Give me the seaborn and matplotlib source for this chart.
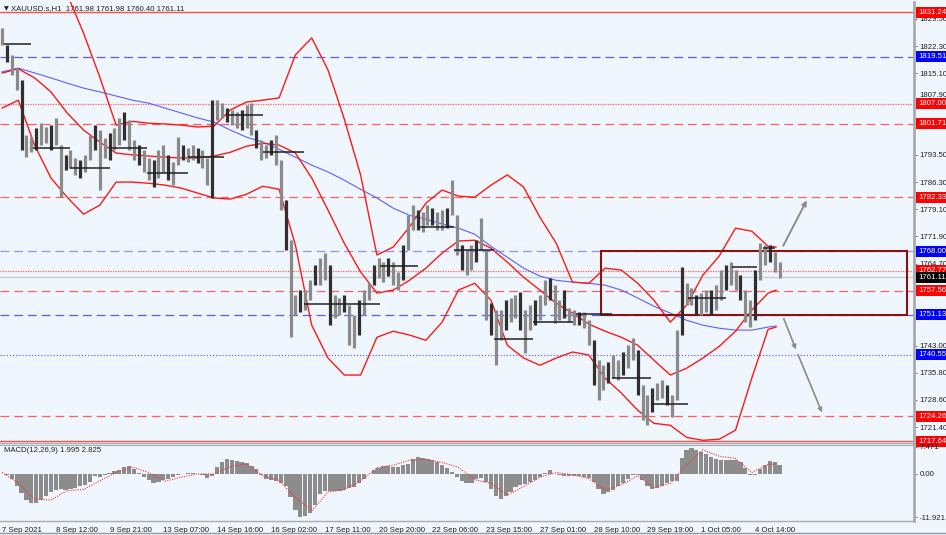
import numpy as np
import pandas as pd
import matplotlib
matplotlib.use("Agg")
import matplotlib.pyplot as plt
import matplotlib.transforms as mtransforms
from matplotlib.patches import Rectangle
from matplotlib.lines import Line2D
import seaborn as sns

# ---------------- data ----------------
symbol_title = "XAUUSD.s,H1  1761.98 1761.98 1760.40 1761.11"
macd_title = "MACD(12,26,9) 1.995 2.825"

date_labels = ["7 Sep 2021", "8 Sep 12:00", "9 Sep 21:00", "13 Sep 07:00", "14 Sep 16:00",
               "16 Sep 02:00", "17 Sep 11:00", "20 Sep 20:00", "22 Sep 06:00", "23 Sep 15:00",
               "27 Sep 01:00", "28 Sep 10:00", "29 Sep 19:00", "1 Oct 05:00", "4 Oct 14:00"]
date_label_bars = [0, 33, 66, 99, 132, 165, 198, 231, 264, 297, 330, 363, 396, 429, 462]

# H1 price blocks (one block = 3 hourly bars): high / low
block_bars = list(range(0, 478, 3))
bar_high = [1827.1, 1822.6, 1820.0, 1816.5, 1813.3, 1798.8, 1798.2, 1800.6, 1801.9, 1800.9,
            1801.4, 1803.3, 1796.1, 1793.5, 1794.8, 1792.7, 1792.1, 1793.5, 1798.8, 1801.4,
            1800.1, 1798.0, 1799.3, 1800.6, 1803.3, 1804.9, 1802.7, 1797.4, 1796.1, 1794.8,
            1792.7, 1792.1, 1794.8, 1796.1, 1793.5, 1791.6, 1798.2, 1796.1, 1795.3, 1796.1,
            1795.3, 1794.8, 1792.7, 1808.0, 1808.0, 1807.2, 1805.9, 1805.4, 1804.9, 1805.4,
            1806.7, 1807.2, 1800.1, 1797.4, 1796.1, 1797.4, 1798.8, 1792.1, 1781.5, 1770.9,
            1756.4, 1757.7, 1757.7, 1760.3, 1764.3, 1766.2, 1767.5, 1764.3, 1756.4, 1755.6,
            1756.4, 1753.7, 1751.1, 1755.0, 1757.7, 1759.5, 1764.3, 1766.2, 1765.1, 1766.2,
            1765.1, 1762.5, 1769.6, 1777.5, 1780.2, 1778.9, 1778.4, 1780.2, 1779.4, 1778.4,
            1778.9, 1779.4, 1786.8, 1777.5, 1769.6, 1768.3, 1769.6, 1770.9, 1776.8, 1768.3,
            1754.2, 1752.4, 1752.4, 1755.0, 1755.6, 1756.4, 1757.1, 1752.4, 1753.7, 1755.0,
            1756.4, 1760.3, 1760.9, 1759.0, 1755.0, 1757.7, 1752.9, 1752.4, 1751.9, 1751.9,
            1749.7, 1744.4, 1739.1, 1737.8, 1738.6, 1740.5, 1739.1, 1741.3, 1743.1, 1745.0,
            1741.8, 1732.5, 1729.9, 1731.7, 1733.0, 1733.8, 1732.5, 1729.9, 1747.1, 1763.8,
            1759.5, 1758.2, 1756.4, 1756.9, 1757.7, 1757.7, 1759.0, 1763.0, 1764.3, 1765.1,
            1763.0, 1761.7, 1757.7, 1755.0, 1763.0, 1770.1, 1769.6, 1769.6, 1767.8, 1765.1]
bar_low = [1822.6, 1818.1, 1814.7, 1810.7, 1794.8, 1792.9, 1794.2, 1794.8, 1796.1, 1796.6,
           1794.8, 1796.1, 1782.3, 1789.5, 1790.0, 1788.2, 1787.4, 1789.0, 1792.1, 1794.8,
           1784.2, 1792.7, 1792.1, 1794.8, 1796.1, 1797.4, 1794.8, 1792.1, 1790.8, 1789.0,
           1786.8, 1785.0, 1787.4, 1789.0, 1786.8, 1785.5, 1790.8, 1792.1, 1791.6, 1792.1,
           1791.3, 1790.0, 1785.5, 1782.1, 1802.7, 1803.3, 1802.2, 1801.4, 1800.6, 1800.1,
           1800.6, 1798.8, 1795.3, 1792.1, 1792.7, 1793.5, 1790.8, 1778.9, 1768.3, 1745.2,
           1751.1, 1751.9, 1752.4, 1755.0, 1759.0, 1759.0, 1760.3, 1748.4, 1750.3, 1751.1,
           1751.9, 1743.1, 1742.3, 1745.8, 1751.1, 1755.0, 1759.0, 1760.9, 1759.8, 1761.4,
           1759.0, 1757.7, 1760.3, 1768.3, 1773.6, 1773.6, 1773.1, 1774.9, 1774.9, 1773.6,
           1773.6, 1774.1, 1777.5, 1767.0, 1763.0, 1761.7, 1763.0, 1765.1, 1768.3, 1749.7,
           1745.8, 1737.8, 1744.4, 1747.1, 1749.2, 1750.3, 1747.1, 1741.0, 1747.1, 1748.4,
           1749.7, 1753.7, 1755.0, 1748.9, 1749.7, 1750.3, 1749.2, 1748.4, 1748.4, 1747.6,
           1743.1, 1732.5, 1728.5, 1731.2, 1733.0, 1734.4, 1733.8, 1735.2, 1737.0, 1739.1,
           1729.9, 1723.2, 1721.9, 1725.4, 1728.5, 1729.1, 1727.2, 1724.0, 1728.5, 1745.8,
           1753.7, 1753.7, 1751.1, 1751.1, 1751.9, 1751.1, 1752.4, 1755.0, 1757.7, 1759.0,
           1757.7, 1755.0, 1749.2, 1747.9, 1749.7, 1760.3, 1764.3, 1765.1, 1762.5, 1760.9]

# indicator lines, sampled every 10 bars
band_bars = list(range(0, 471, 10)) + [475]
bb_upper = [1838.0, 1843.0, 1845.0, 1842.0, 1836.0, 1825.8, 1814.1, 1801.4, 1802.4, 1801.9,
            1801.7, 1801.4, 1800.9, 1801.1, 1805.4, 1807.5, 1808.0, 1808.6, 1820.0, 1824.5,
            1816.0, 1803.0, 1788.2, 1767.0, 1769.1, 1774.4, 1780.7, 1784.2, 1782.6, 1782.3,
            1785.5, 1788.2, 1785.0, 1777.0, 1770.1, 1759.8, 1759.5, 1763.5, 1763.0, 1759.5,
            1755.0, 1749.2, 1753.7, 1761.7, 1766.7, 1774.1, 1773.3, 1769.3, 1769.1]
bb_middle = [1815.2, 1816.3, 1813.9, 1810.2, 1804.6, 1800.1, 1796.9, 1794.0, 1793.5, 1793.2,
             1792.9, 1792.7, 1792.7, 1793.2, 1794.2, 1795.8, 1796.6, 1796.1, 1794.0, 1787.4,
             1778.9, 1770.1, 1762.5, 1756.9, 1757.7, 1760.3, 1763.5, 1767.5, 1770.7, 1770.9,
             1768.8, 1765.1, 1761.1, 1757.7, 1754.2, 1751.6, 1748.7, 1746.8, 1745.2, 1743.1,
             1739.1, 1735.2, 1737.0, 1739.7, 1742.8, 1746.8, 1752.4, 1756.9, 1757.7]
bb_lower = [1805.9, 1808.0, 1796.1, 1787.4, 1782.3, 1777.8, 1780.2, 1786.3, 1786.3, 1786.0,
            1785.5, 1784.7, 1783.4, 1782.1, 1781.8, 1783.1, 1785.2, 1784.4, 1769.6, 1748.4,
            1739.7, 1735.2, 1735.2, 1745.2, 1746.8, 1745.8, 1744.4, 1749.2, 1757.7, 1759.5,
            1755.0, 1743.1, 1739.7, 1737.8, 1739.7, 1741.3, 1740.5, 1734.4, 1730.4, 1725.9,
            1722.4, 1721.9, 1718.7, 1717.9, 1718.2, 1720.6, 1734.4, 1747.3, 1747.9]
ma_slow = [1815.5, 1816.5, 1815.2, 1813.9, 1812.5, 1811.2, 1810.2, 1809.1, 1808.0, 1807.2,
           1805.9, 1804.6, 1803.3, 1802.2, 1800.1, 1798.2, 1796.9, 1795.0, 1792.9, 1790.8,
           1789.0, 1786.8, 1784.4, 1782.1, 1779.4, 1777.5, 1776.5, 1775.2, 1774.1, 1772.5,
           1769.3, 1766.4, 1763.5, 1761.4, 1760.3, 1759.8, 1759.5, 1759.0, 1757.7, 1755.6,
           1753.4, 1751.6, 1749.7, 1748.4, 1747.6, 1747.1, 1747.1, 1747.9, 1748.2]

macd_main = [0.0, -0.2, -1.5, -3.4, -5.4, -7.2, -8.1, -8.0, -7.3, -6.2,
             -5.0, -4.4, -4.2, -4.4, -4.1, -3.8, -3.4, -3.0, -2.2, -0.5,
             -0.9, -0.4, 0.2, 0.7, 1.2, 2.0, 2.1, 1.3, 0.2, -0.8,
             -1.8, -2.5, -2.1, -1.7, -1.3, -0.9, -0.4, 0.1, 0.3, 0.2,
             0.0, -0.4, -1.0, -0.6, 2.0, 3.4, 4.0, 3.9, 3.7, 3.3,
             2.9, 2.1, 1.5, -0.2, -1.5, -1.8, -1.9, -2.5, -3.4, -6.5,
             -10.0, -11.9, -11.6, -10.8, -8.6, -5.5, -4.6, -4.6, -4.7, -4.8,
             -4.4, -4.0, -3.7, -2.5, -1.4, 0.0, 1.1, 1.7, 2.3, 2.1,
             2.0, 2.0, 2.5, 2.8, 4.2, 4.6, 4.4, 4.2, 3.8, 3.2,
             2.4, 1.6, 0.5, -0.8, -2.0, -2.5, -2.6, -1.3, -1.2, -2.1,
             -4.2, -6.0, -7.0, -6.1, -4.9, -3.5, -3.0, -2.9, -2.3, -1.6,
             -0.8, 0.2, 1.2, 0.0, -0.4, -0.5, -0.6, -0.6, -0.7, -0.8,
             -1.2, -2.3, -4.2, -5.5, -5.0, -4.3, -3.3, -2.4, -1.4, -0.3,
             -0.2, -1.8, -3.3, -4.2, -3.8, -3.2, -2.6, -2.0, -1.9, 4.5,
             6.5, 7.1, 6.7, 6.1, 5.4, 4.7, 4.1, 3.9, 3.9, 3.9,
             3.8, 3.2, 1.6, -0.3, -0.3, 1.4, 2.5, 3.5, 3.2, 2.6]
macd_signal = [0.4, -2.5, -7.0, -7.2, -4.6, -4.3, -1.9, 0.4, 1.9, 0.4,
               -2.0, -0.9, 0.0, 0.0, 2.0, 2.8, -0.5, -1.8, -6.5, -10.2,
               -5.0, -4.3, -2.0, 1.7, 2.4, 3.8, 4.0, 3.2, 1.8, -1.6,
               -2.6, -5.8, -3.5, -0.9, 0.4, -0.2, -1.3, -4.4, -3.0, -0.5,
               -3.8, -2.6, 2.5, 6.7, 4.9, 4.3, 0.4, 2.6, 2.8]

# daily open segments
day_open_start = [1, 19, 42, 66, 89, 114, 138, 160, 185, 232, 255, 277, 302, 326, 352, 374, 398, 421, 448, 467]
day_open_end = [18, 42, 66, 89, 114, 136, 160, 185, 232, 255, 277, 302, 326, 350, 374, 398, 421, 444, 463, 474]
day_open_price = [1822.9, 1795.3, 1790.0, 1795.3, 1788.7, 1792.9, 1804.1, 1794.2, 1754.0, 1764.0,
                  1774.4, 1768.3, 1744.7, 1749.2, 1751.4, 1734.4, 1727.5, 1755.6, 1763.8, 1768.8]

# horizontal levels
level_price = [1831.24, 1819.51, 1807.00, 1801.71, 1782.33, 1768.00, 1762.77, 1761.11,
               1757.56, 1751.13, 1740.55, 1724.26, 1717.64]
level_kind = ["red_solid", "blue_dash", "red_dot", "red_dash", "red_dash", "blue_dash_light",
              "red_dot", "current", "red_dash", "blue_dash", "blue_dot", "red_dash", "red_solid"]

price_ticks = [1829.50, 1822.30, 1815.10, 1807.90, 1800.70, 1793.50, 1786.30, 1779.10,
               1771.90, 1764.70, 1757.50, 1750.30, 1743.00, 1735.80, 1728.60, 1721.40]
# labels that sit under a price tag in the reference are left blank
price_tick_labels = ["1829.50", "1822.30", "1815.10", "1807.90", "", "1793.50", "1786.30", "1779.10",
                     "1771.90", "1764.70", "", "", "1743.00", "1735.80", "1728.60", "1721.40"]
macd_ticks = [7.471, 0.0, -11.921]
macd_tick_labels = ["7.471", "0.00", "-11.921"]

zone_bars = [367.5, 555.2]
zone_prices = [1751.13, 1768.00]
arrow_up_bars = [478.5, 494.5]
arrow_up_prices = [1768.8, 1782.1]
arrow_dn_bars = [479.0, 487.7, 503.7]
arrow_dn_prices = [1750.8, 1741.3, 1724.6]

# ---------------- style ----------------
BG = "#EFF6FD"
sns.set_style("white")
plt.rcParams['font.family'] = ['Liberation Sans Narrow', 'Liberation Sans', 'DejaVu Sans']
FS = 5.6

W, H = 946, 535
fig = plt.figure(figsize=(W / 100, H / 100), dpi=100, facecolor=BG)

def fx(px):
    return px / W

def fy(py):
    return 1 - py / H

ax_w = 914
ax = fig.add_axes([0, fy(443), fx(ax_w), fy(2) - fy(443)])
axm = fig.add_axes([0, fy(521), fx(ax_w), fy(445) - fy(521)])

XMIN, XMAX = -2 / 1.63, (ax_w - 2) / 1.63
for a in (ax, axm):
    a.set_facecolor(BG)
    a.set_xlim(XMIN, XMAX)
    for s in ("left", "top"):
        a.spines[s].set_visible(False)
    a.spines["right"].set_color("#A8ACB0")
    a.spines["right"].set_linewidth(2.0)
    a.spines["bottom"].set_color("#A8ACB0")
    a.spines["bottom"].set_linewidth(1.0)
axm.spines["top"].set_visible(True)
axm.spines["top"].set_color("#A8ACB0")

ax.set_ylim(1717.2, 1834.0)
axm.set_ylim(-13.0, 8.0)

# levels
style_map = {
    "red_solid": dict(color="#FF5050", ls="-", lw=1.0),
    "red_dash": dict(color="#FF6060", ls=(0, (7, 4)), lw=0.9),
    "red_dot": dict(color="#FF6060", ls=(0, (1, 1)), lw=0.9),
    "blue_dash": dict(color="#5A5AFF", ls=(0, (7, 4)), lw=0.9),
    "blue_dash_light": dict(color="#9090FF", ls=(0, (7, 4)), lw=0.9),
    "blue_dot": dict(color="#6A6AFF", ls=(0, (1, 1.5)), lw=0.9),
    "current": dict(color="#C8CCD0", ls="-", lw=0.9),
}
tag_color = {"red_solid": "#FF0000", "red_dash": "#FF0000", "red_dot": "#FF0000",
             "blue_dash": "#0000FF", "blue_dash_light": "#0000FF", "blue_dot": "#0000FF",
             "current": "#000000"}
for p, k in zip(level_price, level_kind):
    ax.axhline(p, zorder=1, **style_map[k])

# zone rectangle
ax.add_patch(Rectangle((zone_bars[0], zone_prices[0]), zone_bars[1] - zone_bars[0],
                       zone_prices[1] - zone_prices[0], fill=False, ec="#8B1010", lw=1.5, zorder=5))

# indicator lines via seaborn
ind = pd.DataFrame({"bar": band_bars, "upper": bb_upper, "middle": bb_middle,
                    "lower": bb_lower, "ma": ma_slow, "signal": macd_signal})
sns.lineplot(data=ind, x="bar", y="ma", ax=ax, color="#6060FF", lw=0.8, zorder=3)
for col in ("upper", "middle", "lower"):
    sns.lineplot(data=ind, x="bar", y=col, ax=ax, color="#FF1A1A", lw=1.0, zorder=4)
for ln in ax.get_lines():
    ln.set_solid_joinstyle("round")

# price bars
cols = ["#303030" if i % 3 == 1 else "#8A8A8A" for i in range(len(block_bars))]
ax.vlines(block_bars, bar_low, bar_high, colors=cols, lw=2.3, zorder=6)

# daily open segments
ax.hlines(day_open_price, day_open_start, day_open_end, colors="#202020", lw=1.1, zorder=6)

# arrows
ax.annotate("", xy=(arrow_up_bars[1], arrow_up_prices[1]), xytext=(arrow_up_bars[0], arrow_up_prices[0]),
            arrowprops=dict(arrowstyle="-|>", color="#8C8C8C", lw=1.4, mutation_scale=7), zorder=7)
ax.annotate("", xy=(arrow_dn_bars[1], arrow_dn_prices[1]), xytext=(arrow_dn_bars[0], arrow_dn_prices[0]),
            arrowprops=dict(arrowstyle="-|>", color="#8C8C8C", lw=1.2, mutation_scale=6), zorder=7)
ax.annotate("", xy=(arrow_dn_bars[2], arrow_dn_prices[2]), xytext=(arrow_dn_bars[1], arrow_dn_prices[1]),
            arrowprops=dict(arrowstyle="-|>", color="#8C8C8C", lw=1.2, mutation_scale=6), zorder=7)

# price axis
ax.set_xticks([])
ax.set_xlabel("")
ax.set_ylabel("")
ax.yaxis.tick_right()
ax.set_yticks(price_ticks)
ax.set_yticklabels(price_tick_labels)
ax.tick_params(axis="y", direction="out", length=2.5, width=0.6, color="#606060",
               pad=1.5, labelsize=FS, labelcolor="#202020")
# the 1807.90 label peeks out just above the 1807.00 tag, as in the reference
lift = mtransforms.ScaledTranslation(0, 4.5 / 72, fig.dpi_scale_trans)
for lab in ax.get_yticklabels():
    if lab.get_text() == "1807.90":
        lab.set_transform(lab.get_transform() + lift)

trans = mtransforms.blended_transform_factory(ax.transAxes, ax.transData)
for p, k in zip(level_price, level_kind):
    ax.text(1.0045, p, f"{p:.2f}", transform=trans, ha="left", va="center", fontsize=FS,
            color="white", clip_on=False, zorder=20,
            bbox=dict(boxstyle="square,pad=0.25", fc=tag_color[k], ec="none"))

ax.text(fx(4) / fx(ax_w), 0.985, "\u25BC", transform=ax.transAxes, ha="left", va="center",
        fontsize=4.5, color="#202020", family=["DejaVu Sans"])
ax.text(fx(11) / fx(ax_w), 0.985, symbol_title, transform=ax.transAxes, ha="left", va="center",
        fontsize=FS, color="#202020")

# MACD panel
axm.bar(block_bars, macd_main, width=2.6, color="#8C8C8C", lw=0, zorder=2)
sns.lineplot(data=ind, x="bar", y="signal", ax=axm, color="#FF3030", lw=0.8,
             linestyle=(0, (1, 1.2)), zorder=3)
axm.set_xlabel("")
axm.set_ylabel("")
axm.yaxis.tick_right()
axm.set_yticks(macd_ticks)
axm.set_yticklabels(macd_tick_labels)
axm.tick_params(axis="y", direction="out", length=2.5, width=0.6, color="#606060",
                pad=1.5, labelsize=FS, labelcolor="#202020")
axm.set_xticks(date_label_bars)
axm.set_xticklabels(date_labels, ha="left")
axm.tick_params(axis="x", direction="out", length=3, width=0.6, color="#606060",
                pad=1.0, labelsize=FS, labelcolor="#202020")
for lab in axm.get_xticklabels():
    lab.set_horizontalalignment("left")
axm.text(fx(4) / fx(ax_w), 0.93, macd_title, transform=axm.transAxes, ha="left", va="center",
         fontsize=FS, color="#202020")

# window bottom border
fig.add_artist(Line2D([0, 1], [fy(533), fy(533)], color="#9A9A9A", lw=1.0))

fig.savefig("out.png", dpi=100, facecolor=BG)
